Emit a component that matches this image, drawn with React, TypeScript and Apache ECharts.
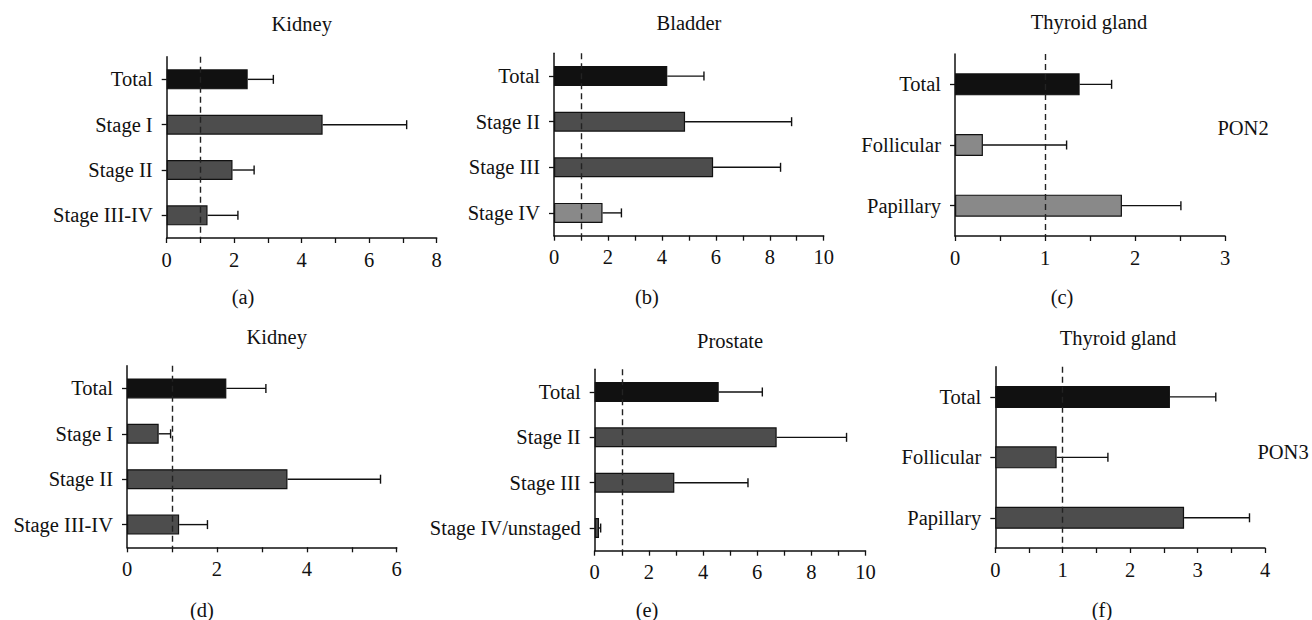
import React, { useEffect, useRef } from "react";
import * as echarts from "echarts";

// ---- data ----
const catsA = ["Total", "Stage I", "Stage II", "Stage III-IV"];
const valsA = [2.4, 4.62, 1.95, 1.21];
const errA = [3.16, 7.11, 2.59, 2.11];

const catsB = ["Total", "Stage II", "Stage III", "Stage IV"];
const valsB = [4.2, 4.86, 5.9, 1.8];
const errB = [5.56, 8.81, 8.4, 2.5];

const catsC = ["Total", "Follicular", "Papillary"];
const valsC = [1.385, 0.31, 1.855];
const errC = [1.74, 1.24, 2.51];

const catsD = ["Total", "Stage I", "Stage II", "Stage III-IV"];
const valsD = [2.21, 0.705, 3.57, 1.16];
const errD = [3.09, 0.97, 5.64, 1.79];

const catsE = ["Total", "Stage II", "Stage III", "Stage IV/unstaged"];
const valsE = [4.58, 6.72, 2.94, 0.16];
const errE = [6.19, 9.3, 5.66, 0.22];

const catsF = ["Total", "Follicular", "Papillary"];
const valsF = [2.59, 0.91, 2.8];
const errF = [3.27, 1.67, 3.77];

const axisMax = [8, 10, 3, 6, 10, 4];
const axisInterval = [2, 2, 1, 2, 2, 1];
const titles = ["Kidney", "Bladder", "Thyroid gland", "Kidney", "Prostate", "Thyroid gland"];
const tags = ["(a)", "(b)", "(c)", "(d)", "(e)", "(f)"];
const referenceLine = 1;

// ---- styles ----
const BLACK = "#111111";
const DARK = "#4d4d4d";
const LIGHT = "#898989";
const shadesA = [BLACK, DARK, DARK, DARK];
const shadesB = [BLACK, DARK, DARK, LIGHT];
const shadesC = [BLACK, LIGHT, LIGHT];
const shadesD = [BLACK, DARK, DARK, DARK];
const shadesE = [BLACK, DARK, DARK, DARK];
const shadesF = [BLACK, DARK, DARK];

const FONT = "'Liberation Serif', 'Times New Roman', serif";
const FS = 20.5;

const grids = [
  { left: 166.7, top: 56.7, width: 270, height: 181.3 },
  { left: 554, top: 53.3, width: 269.7, height: 182.4 },
  { left: 955, top: 54, width: 270, height: 182 },
  { left: 127, top: 365.7, width: 269.7, height: 181.6 },
  { left: 594.7, top: 369.3, width: 270.8, height: 181.4 },
  { left: 995.3, top: 366.7, width: 269.7, height: 181.3 },
];
const titlePos = [
  [301.7, 24],
  [689, 23],
  [1089, 22],
  [276.7, 337],
  [730, 341],
  [1118, 338],
];
const tagPos = [
  [243, 297],
  [647, 297],
  [1062, 297],
  [202, 610],
  [647, 610],
  [1102, 610],
];

const panels = [
  { cats: catsA, vals: valsA, errs: errA, shades: shadesA },
  { cats: catsB, vals: valsB, errs: errB, shades: shadesB },
  { cats: catsC, vals: valsC, errs: errC, shades: shadesC },
  { cats: catsD, vals: valsD, errs: errD, shades: shadesD },
  { cats: catsE, vals: valsE, errs: errE, shades: shadesE },
  { cats: catsF, vals: valsF, errs: errF, shades: shadesF },
];

function buildOption() {
  const grid: any[] = [];
  const xAxis: any[] = [];
  const yAxis: any[] = [];
  const series: any[] = [];
  const graphic: any[] = [];

  panels.forEach((p, i) => {
    grid.push({ ...grids[i], containLabel: false });
    xAxis.push({
      type: "value",
      gridIndex: i,
      min: 0,
      max: axisMax[i],
      interval: axisInterval[i],
      splitLine: { show: false },
      axisLine: { show: true, onZero: false, lineStyle: { color: BLACK, width: 1.5 } },
      axisTick: { show: true, length: 5, lineStyle: { color: BLACK, width: 1.3 } },
      minorTick: { show: true, splitNumber: 2, length: 5, lineStyle: { color: BLACK, width: 1.3 } },
      minorSplitLine: { show: false },
      axisLabel: { fontFamily: FONT, fontSize: FS, color: BLACK, margin: 11 },
    });
    yAxis.push({
      type: "category",
      gridIndex: i,
      data: p.cats,
      inverse: true,
      axisLine: { show: true, lineStyle: { color: BLACK, width: 1.5 } },
      axisTick: { show: true, alignWithLabel: true, length: 5, lineStyle: { color: BLACK, width: 1.3 } },
      axisLabel: { fontFamily: FONT, fontSize: FS, color: BLACK, margin: 14 },
      splitLine: { show: false },
    });
    const bw = p.cats.length === 3 ? 22 : 20;
    // reference dashed line (behind bars)
    series.push({
      type: "line",
      xAxisIndex: i,
      yAxisIndex: i,
      data: [],
      z: 1,
      silent: true,
      markLine: {
        symbol: "none",
        silent: true,
        label: { show: false },
        lineStyle: { type: [6, 4], color: "#222", width: 1.4 },
        data: [{ xAxis: referenceLine }],
      },
    });
    series.push({
      type: "bar",
      xAxisIndex: i,
      yAxisIndex: i,
      z: 3,
      barWidth: bw,
      data: p.vals.map((v, k) => ({
        value: v,
        itemStyle: { color: p.shades[k], borderColor: BLACK, borderWidth: 1.2 },
      })),
    });
    series.push({
      type: "custom",
      xAxisIndex: i,
      yAxisIndex: i,
      z: 4,
      encode: { x: [0, 2], y: 1 },
      data: p.vals.map((v, k) => [v, p.cats[k], p.errs[k]]),
      renderItem: (params: any, api: any) => {
        const s = api.coord([api.value(0), api.value(1)]);
        const e = api.coord([api.value(2), api.value(1)]);
        const st = { stroke: BLACK, lineWidth: 1.4 };
        return {
          type: "group",
          children: [
            { type: "line", shape: { x1: s[0], y1: s[1], x2: e[0], y2: e[1] }, style: st },
            { type: "line", shape: { x1: e[0], y1: e[1] - 4.5, x2: e[0], y2: e[1] + 4.5 }, style: st },
          ],
        };
      },
    });

    graphic.push({
      type: "text",
      x: titlePos[i][0],
      y: titlePos[i][1],
      style: {
        text: titles[i],
        font: `${FS}px ${FONT}`,
        fill: BLACK,
        textAlign: "center",
        textVerticalAlign: "middle",
      },
    });
    graphic.push({
      type: "text",
      x: tagPos[i][0],
      y: tagPos[i][1],
      style: {
        text: tags[i],
        font: `${FS}px ${FONT}`,
        fill: BLACK,
        textAlign: "center",
        textVerticalAlign: "middle",
      },
    });
  });

  graphic.push({
    type: "text",
    x: 1243,
    y: 128,
    style: { text: "PON2", font: `${FS}px ${FONT}`, fill: BLACK, textAlign: "center", textVerticalAlign: "middle" },
  });
  graphic.push({
    type: "text",
    x: 1283,
    y: 452,
    style: { text: "PON3", font: `${FS}px ${FONT}`, fill: BLACK, textAlign: "center", textVerticalAlign: "middle" },
  });

  return {
    animation: false,
    backgroundColor: "#ffffff",
    grid,
    xAxis,
    yAxis,
    series,
    graphic,
  };
}

export default function App() {
  const ref = useRef<HTMLDivElement>(null);
  useEffect(() => {
    if (!ref.current) return;
    const chart = echarts.init(ref.current, undefined, { renderer: "svg" });
    chart.setOption(buildOption() as any);
    return () => chart.dispose();
  }, []);
  return (
    <div
      ref={ref}
      style={{ position: "fixed", left: 0, top: 0, width: 1312, height: 620, background: "#fff" }}
    />
  );
}
